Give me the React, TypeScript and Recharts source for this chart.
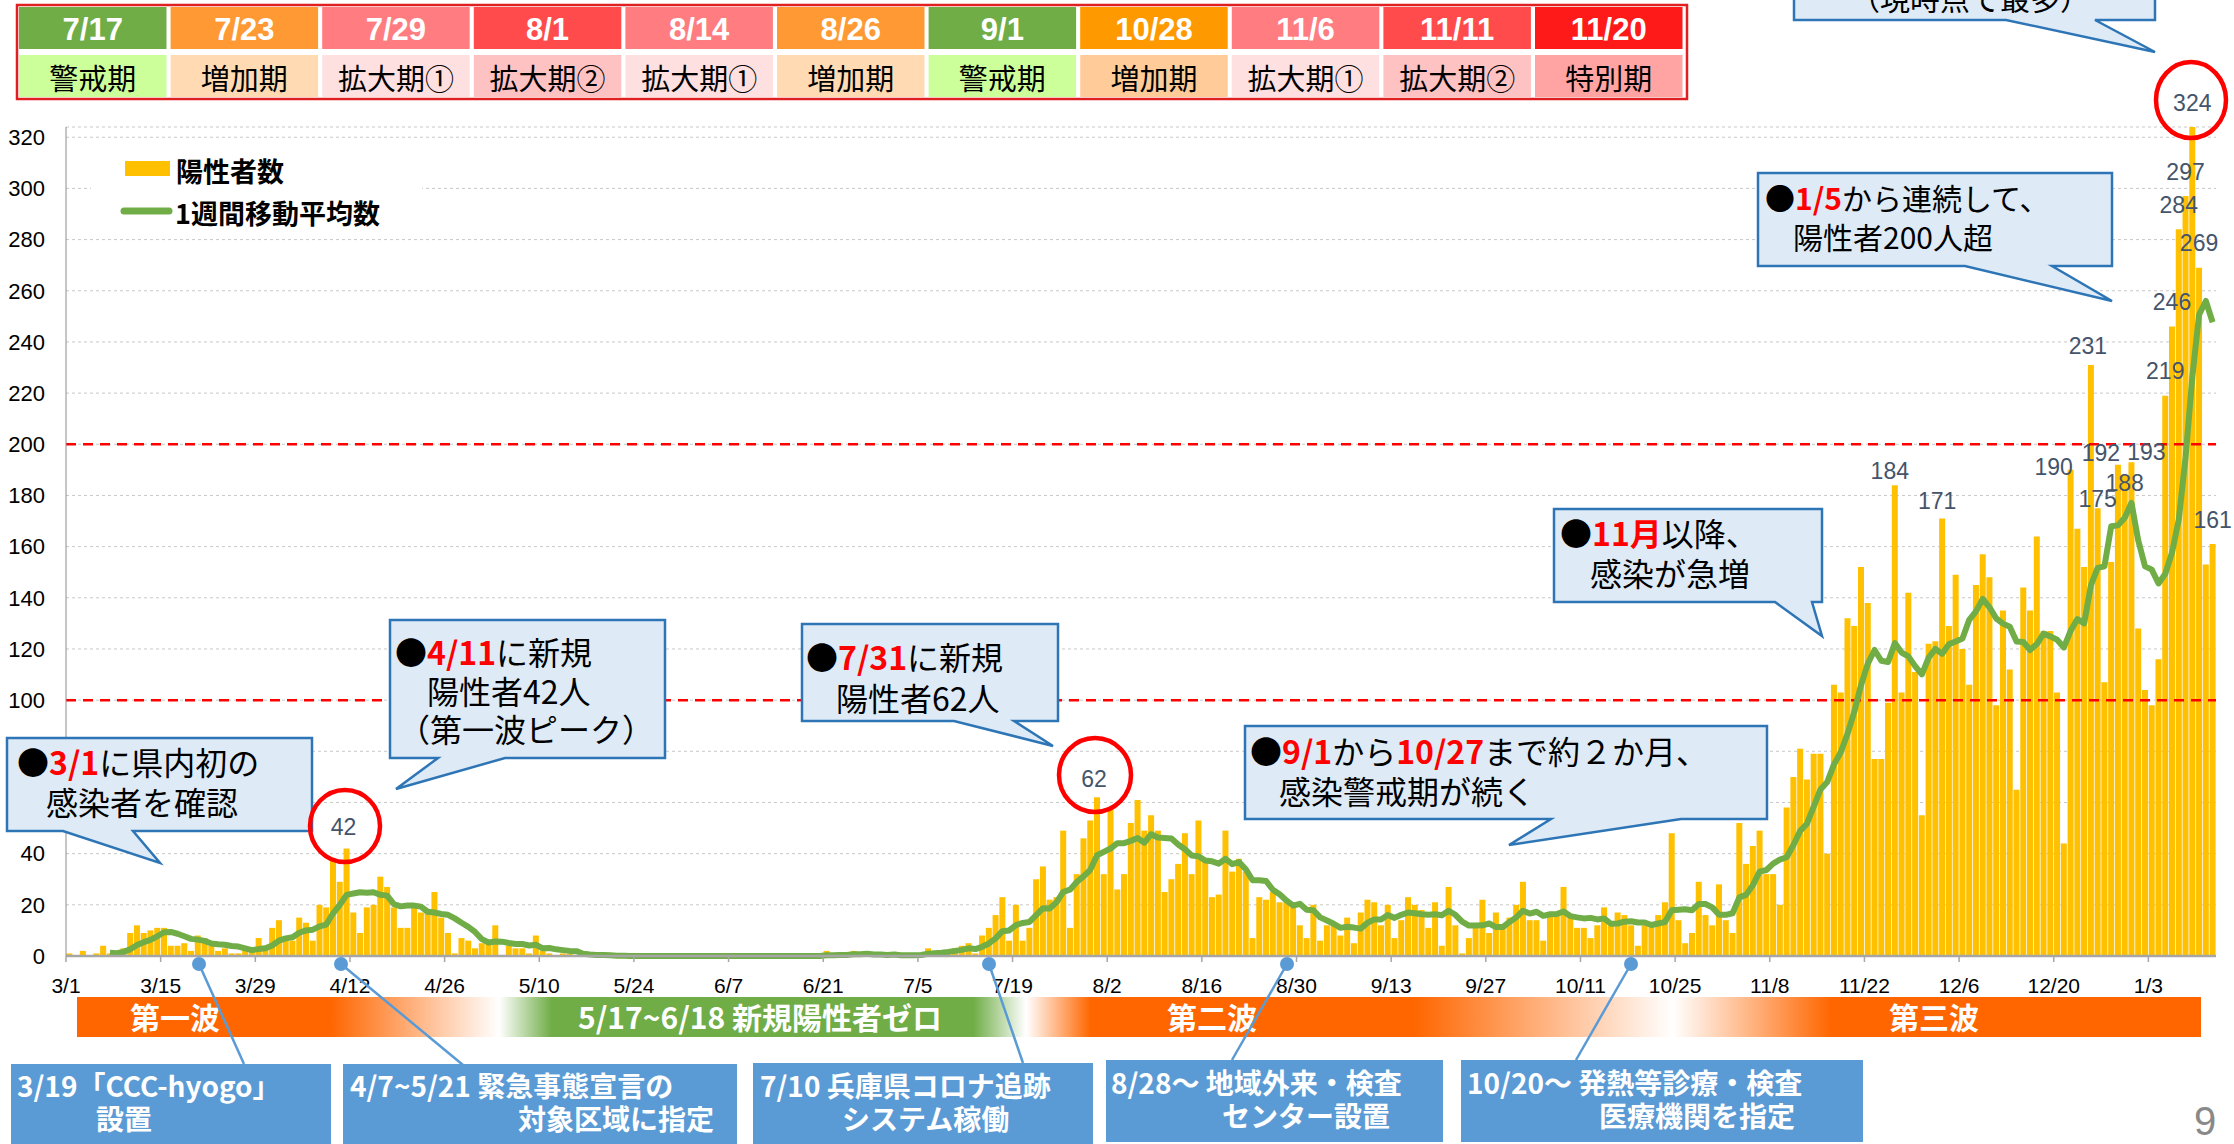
import React from "react";
import {
  ComposedChart,
  Bar,
  Line,
  XAxis,
  YAxis,
  CartesianGrid,
  ReferenceLine,
  LabelList,
} from "recharts";

// days per month, 2020/3/1 - 2021/1/12
const MONTHS: [number, number][] = [
  [3, 31], [4, 30], [5, 31], [6, 30], [7, 31], [8, 31],
  [9, 30], [10, 31], [11, 30], [12, 31], [1, 12],
];
const DATES: string[] = MONTHS.flatMap(([m, n]) =>
  Array.from({ length: n }, (_, i) => `${m}/${i + 1}`)
);

// daily positives
const POSITIVES = [
  1, 0, 2, 0, 1, 4, 1, 0, 3, 9,
  12, 9, 10, 11, 11, 4, 4, 5, 2, 8,
  7, 4, 2, 3, 1, 1, 3, 2, 7, 4,
  11, 14, 7, 6, 15, 13, 6, 20, 19, 38,
  29, 42, 17, 9, 19, 20, 31, 27, 19, 11,
  11, 19, 17, 17, 25, 15, 9, 1, 7, 6,
  3, 5, 6, 12, 0, 4, 3, 3, 1, 8,
  2, 1, 0, 1, 1, 0, 1, 0, 0, 0,
  0, 0, 0, 0, 0, 0, 0, 0, 0, 0,
  0, 0, 0, 0, 0, 0, 0, 0, 0, 0,
  0, 0, 0, 0, 0, 0, 0, 0, 0, 0,
  0, 0, 2, 0, 1, 0, 2, 0, 1, 0,
  0, 0, 1, 0, 0, 1, 1, 3, 2, 2,
  2, 3, 4, 5, 1, 8, 11, 16, 23, 6,
  20, 6, 11, 30, 35, 22, 23, 49, 11, 32,
  46, 53, 62, 32, 58, 26, 32, 52, 61, 49,
  55, 49, 25, 30, 36, 48, 32, 53, 37, 23,
  24, 49, 33, 38, 33, 7, 23, 22, 25, 21,
  21, 19, 12, 7, 20, 6, 12, 12, 8, 15,
  5, 17, 22, 21, 12, 20, 7, 14, 23, 20,
  18, 11, 21, 4, 27, 12, 1, 7, 11, 22,
  9, 17, 12, 15, 20, 29, 14, 14, 6, 16,
  16, 27, 16, 11, 11, 7, 12, 19, 12, 17,
  16, 12, 4, 12, 12, 16, 21, 48, 14, 5,
  9, 29, 16, 12, 28, 14, 9, 52, 36, 43,
  49, 32, 32, 20, 58, 70, 81, 69, 79, 79,
  40, 106, 103, 132, 129, 152, 138, 77, 77, 99,
  184, 103, 142, 111, 55, 122, 123, 171, 129, 149,
  120, 106, 145, 157, 148, 98, 135, 112, 65, 144,
  135, 164, 127, 127, 103, 44, 190, 167, 152, 231,
  175, 107, 154, 192, 188, 193, 128, 104, 98, 116,
  219, 246, 284, 297, 324, 269, 153, 161,
];

// 1-week moving average
const WEEKLY_AVG: (number | null)[] = [
  null, null, null, null, null, null, 1.3, 1.1, 1.6, 2.6,
  4.3, 5.4, 6.3, 7.7, 9.3, 9.4, 8.7, 7.7, 6.7, 6.4,
  5.9, 4.9, 4.6, 4.4, 3.9, 3.7, 3.0, 2.3, 2.7, 3.0,
  4.1, 6.0, 6.9, 7.3, 9.1, 10.0, 10.3, 11.6, 12.3, 16.7,
  20.0, 23.9, 24.4, 24.9, 24.7, 24.9, 23.9, 23.6, 20.3, 19.4,
  19.7, 19.7, 19.3, 17.3, 17.0, 16.4, 16.1, 14.7, 13.0, 11.4,
  9.4, 6.6, 5.3, 5.7, 5.6, 5.1, 4.7, 4.7, 4.1, 4.4,
  3.0, 3.1, 2.6, 2.3, 2.0, 1.9, 0.9, 0.6, 0.4, 0.4,
  0.3, 0.1, 0.1, 0, 0, 0, 0, 0, 0, 0,
  0, 0, 0, 0, 0, 0, 0, 0, 0, 0,
  0, 0, 0, 0, 0, 0, 0, 0, 0, 0,
  0, 0, 0.3, 0.3, 0.4, 0.4, 0.7, 0.7, 0.9, 0.6,
  0.6, 0.4, 0.6, 0.3, 0.3, 0.3, 0.4, 0.9, 1.1, 1.3,
  1.6, 2.0, 2.4, 3.0, 2.7, 3.6, 4.9, 6.9, 9.7, 10.0,
  12.1, 12.9, 13.3, 16.0, 18.7, 18.6, 21.0, 25.1, 25.9, 28.9,
  31.1, 33.7, 39.4, 40.7, 42.0, 44.1, 44.1, 45.0, 46.1, 44.3,
  47.6, 46.3, 46.1, 45.9, 43.6, 41.7, 39.3, 39.0, 37.3, 37.0,
  36.1, 38.0, 35.9, 36.7, 33.9, 29.6, 29.6, 29.3, 25.9, 24.1,
  21.7, 19.7, 20.4, 18.1, 17.9, 15.1, 13.9, 12.6, 11.0, 11.4,
  11.1, 10.7, 13.0, 14.3, 14.3, 16.0, 14.9, 16.1, 17.0, 16.7,
  16.3, 16.1, 16.3, 15.9, 17.7, 16.1, 13.4, 11.9, 11.9, 12.0,
  12.7, 11.3, 11.3, 13.3, 15.1, 17.7, 16.6, 17.3, 15.7, 16.3,
  16.4, 17.4, 15.6, 15.1, 14.7, 14.9, 14.3, 14.7, 12.6, 12.7,
  13.4, 13.6, 13.1, 13.1, 12.1, 12.7, 13.3, 17.9, 18.1, 18.3,
  17.9, 20.3, 20.3, 19.0, 16.1, 16.1, 16.7, 22.9, 23.9, 27.7,
  33.0, 33.6, 36.1, 37.7, 38.6, 43.4, 48.9, 51.7, 58.4, 65.1,
  68.0, 74.9, 79.6, 86.9, 95.4, 105.9, 114.3, 119.6, 115.4, 114.9,
  122.3, 118.6, 117.1, 113.3, 110.1, 116.6, 120.0, 118.1, 121.9, 122.9,
  124.1, 131.4, 134.7, 139.6, 136.3, 131.9, 129.9, 128.7, 122.9, 122.7,
  119.6, 121.9, 126.0, 124.9, 123.6, 120.6, 127.1, 131.7, 130.0, 144.9,
  151.7, 152.3, 168.0, 168.3, 171.3, 177.1, 162.4, 152.3, 151.0, 145.6,
  149.4, 157.7, 170.7, 194.9, 226.3, 250.7, 256.0, 247.7,
];

const Y_TICKS = [0, 20, 40, 60, 80, 100, 120, 140, 160, 180, 200, 220, 240, 260, 280, 300, 320];

const PHASE_DATES = ["7/17", "7/23", "7/29", "8/1", "8/14", "8/26", "9/1", "10/28", "11/6", "11/11", "11/20"];
const PHASE_NAMES = ["警戒期", "増加期", "拡大期①", "拡大期②", "拡大期①", "増加期", "警戒期", "増加期", "拡大期①", "拡大期②", "特別期"];

const chartData = DATES.map((date, i) => ({
  date,
  positives: POSITIVES[i],
  avg: WEEKLY_AVG[i],
}));

// styling
const W = 2234;
const H = 1144;
const PLOT_LEFT = 66;
const PLOT_RIGHT = 2216;
const BAND = (PLOT_RIGHT - PLOT_LEFT) / DATES.length;
const HALF_BAND = BAND / 2;
const JP = "'Noto Sans CJK JP', 'Noto Sans', sans-serif";
const LAT = "'Liberation Sans', Arial, sans-serif";

const HEAD_COLORS = ["#70AD47", "#FF9933", "#FF7C80", "#FF4B4B", "#FF7C80", "#FF9933", "#70AD47", "#FF9900", "#FF7C80", "#FF4B4B", "#FF1A1A"];
const NAME_COLORS = ["#CCFF99", "#FFDAB3", "#FFE0E0", "#FFC2C2", "#FFE0E0", "#FFDAB3", "#CCFF99", "#FFCC99", "#FFE0E0", "#FFC2C2", "#FFA3A3"];

// label offsets (dx from bar centre, dy from bar top), keyed by day index
const LABEL_OFFSETS: Record<number, [number, number]> = {
  41: [-3, -22],
  152: [-3, -18],
  270: [-5, -14],
  277: [-5, -17],
  296: [-17, -3],
  299: [-3, -19],
  300: [0, -9],
  303: [-17, -12],
  304: [0, 8],
  305: [15, -10],
  310: [0, -25],
  311: [0, -25],
  312: [0, -24],
  313: [0, -24],
  314: [0, -24],
  315: [0, -25],
  317: [0, -24],
};

const DateTick = (props: any) => {
  const { x, y, payload } = props;
  const px = x - HALF_BAND;
  return (
    <g>
      <line x1={px} x2={px} y1={y} y2={y + 6} stroke="#A6A6A6" strokeWidth={1.5} />
      <text x={px} y={y + 29} textAnchor="middle" dominantBaseline="central" fontSize={21} fontFamily={LAT} fill="#000">
        {payload.value}
      </text>
    </g>
  );
};

const PeakLabel = (props: any) => {
  const { x, y, width, value } = props;
  const cx = Number(x) + Number(width) / 2;
  const day = Math.floor((cx - PLOT_LEFT) / BAND);
  const off = LABEL_OFFSETS[day];
  if (!off) return null;
  return (
    <text
      x={cx + off[0]}
      y={Number(y) + off[1]}
      textAnchor="middle"
      dominantBaseline="central"
      fontSize={23}
      fontFamily={LAT}
      fill="#44546A"
    >
      {value}
    </text>
  );
};

const Red = ({ children }: { children: React.ReactNode }) => (
  <tspan fill="#FF0000" fontWeight="bold">{children}</tspan>
);

const Callout = ({ d }: { d: string }) => (
  <path d={d} fill="#DEEBF7" stroke="#2E75B6" strokeWidth={2.5} strokeLinejoin="miter" />
);

const calloutText = { fontSize: 32, fontFamily: JP, fill: "#000", dominantBaseline: "central" as const };

const BlueBox = ({ x, y, w, h }: { x: number; y: number; w: number; h: number }) => (
  <rect x={x} y={y} width={w} height={h} fill="#5B9BD5" />
);

const boxText = { fontSize: 28, fontFamily: JP, fill: "#fff", fontWeight: "bold" as const, dominantBaseline: "central" as const };

const Overlay = () => (
  <svg width={W} height={H} style={{ position: "absolute", left: 0, top: 0, pointerEvents: "none" }}>
    <defs>
      <linearGradient id="wave1" x1="0" x2="1" y1="0" y2="0">
        <stop offset="0" stopColor="#FF6600" />
        <stop offset="0.6" stopColor="#FF6600" />
        <stop offset="1" stopColor="#FFFFFF" />
      </linearGradient>
      <linearGradient id="zero" x1="0" x2="1" y1="0" y2="0">
        <stop offset="0" stopColor="#FFFFFF" />
        <stop offset="0.1" stopColor="#70AD47" />
        <stop offset="0.9" stopColor="#70AD47" />
        <stop offset="1" stopColor="#FFFFFF" />
      </linearGradient>
      <linearGradient id="wave2" x1="0" x2="1" y1="0" y2="0">
        <stop offset="0" stopColor="#FFFFFF" />
        <stop offset="0.1" stopColor="#FF6600" />
        <stop offset="0.6" stopColor="#FF6600" />
        <stop offset="1" stopColor="#FFFFFF" />
      </linearGradient>
      <linearGradient id="wave3" x1="0" x2="1" y1="0" y2="0">
        <stop offset="0" stopColor="#FFFFFF" />
        <stop offset="0.3" stopColor="#FF6600" />
        <stop offset="1" stopColor="#FF6600" />
      </linearGradient>
    </defs>

    {/* phase table */}
    <rect x={17} y={5} width={1670} height={94} fill="#fff" stroke="#E02020" strokeWidth={2.5} />
    {PHASE_DATES.map((d, j) => {
      const x = 19 + j * 151.6;
      return (
        <g key={j}>
          <rect x={x} y={7} width={147.5} height={42} fill={HEAD_COLORS[j]} />
          <rect x={x} y={55} width={147.5} height={42} fill={NAME_COLORS[j]} />
          <text x={x + 73.75} y={29} textAnchor="middle" dominantBaseline="central" fontSize={31} fontWeight="bold" fontFamily={LAT} fill="#fff">
            {d}
          </text>
          <text x={x + 73.75} y={77} textAnchor="middle" dominantBaseline="central" fontSize={29} fontFamily={JP} fill="#000">
            {PHASE_NAMES[j]}
          </text>
        </g>
      );
    })}

    {/* legend */}
    <rect x={91} y={148} width={331} height={82} fill="#fff" />
    <rect x={125} y={161} width={45} height={15} fill="#FFC000" />
    <text x={176} y={170} dominantBaseline="central" fontSize={27} fontWeight="bold" fontFamily={JP} fill="#000">陽性者数</text>
    <line x1={124} x2={169} y1={211} y2={211} stroke="#70AD47" strokeWidth={7} strokeLinecap="round" />
    <text x={175} y={212} dominantBaseline="central" fontSize={27} fontWeight="bold" fontFamily={JP} fill="#000">1週間移動平均数</text>

    {/* callouts */}
    <Callout d="M7,738 H312 V831 H133 L160,863 L63,831 H7 Z" />
    <text x={17} y={761} {...calloutText}>●<Red>3/1</Red>に県内初の</text>
    <text x={46} y={801} {...calloutText}>感染者を確認</text>

    <Callout d="M390,620 H665 V758 H505 L396,789 L438,758 H390 Z" />
    <text x={395} y={651} {...calloutText}>●<Red>4/11</Red>に新規</text>
    <text x={427} y={690} {...calloutText}>陽性者42人</text>
    <text x={398} y={728} {...calloutText}>（第一波ピーク）</text>

    <Callout d="M802,624 H1058 V721 H1014 L1053,746 L954,721 H802 Z" />
    <text x={806} y={656} {...calloutText}>●<Red>7/31</Red>に新規</text>
    <text x={836} y={697} {...calloutText}>陽性者62人</text>

    <Callout d="M1245,726 H1767 V819 H1681 L1509,845 L1551,819 H1245 Z" />
    <text x={1250} y={750} {...calloutText}>●<Red>9/1</Red>から<Red>10/27</Red>まで約２か月、</text>
    <text x={1279} y={790} {...calloutText}>感染警戒期が続く</text>

    <Callout d="M1554,509 H1822 V602 H1812 L1822,636 L1775,602 H1554 Z" />
    <text x={1560} y={532} {...calloutText}>●<Red>11月</Red>以降、</text>
    <text x={1590} y={572} {...calloutText}>感染が急増</text>

    <Callout d="M1758,173 H2112 V266 H2052 L2112,301 L1965,266 H1758 Z" />
    <text x={1765} y={197} {...calloutText} fontSize={30}>●<Red>1/5</Red>から連続して、</text>
    <text x={1793} y={236} {...calloutText} fontSize={30}>陽性者200人超</text>

    <Callout d="M1794,-10 H2155 V20 H2095 L2155,52 L2006,20 H1794 Z" />
    <text x={1850} y={-3} {...calloutText} fontSize={30}>（現時点で最多）</text>

    {/* peak circles */}
    <ellipse cx={345} cy={826} rx={35} ry={36} fill="none" stroke="#FF0000" strokeWidth={4.5} />
    <ellipse cx={1095} cy={775} rx={36} ry={37} fill="none" stroke="#FF0000" strokeWidth={4.5} />
    <ellipse cx={2191} cy={100} rx={35} ry={38} fill="none" stroke="#FF0000" strokeWidth={4.5} />

    {/* wave bands */}
    <rect x={77} y={997} width={422} height={40} fill="url(#wave1)" />
    <rect x={499} y={997} width={527} height={40} fill="url(#zero)" />
    <rect x={1026} y={997} width={647} height={40} fill="url(#wave2)" />
    <rect x={1673} y={997} width={528} height={40} fill="url(#wave3)" />
    <text x={175} y={1016} textAnchor="middle" dominantBaseline="central" fontSize={30} fontWeight="bold" fontFamily={JP} fill="#fff">第一波</text>
    <text x={760} y={1016} textAnchor="middle" dominantBaseline="central" fontSize={30} fontWeight="bold" fontFamily={JP} fill="#fff">5/17~6/18 新規陽性者ゼロ</text>
    <text x={1212} y={1016} textAnchor="middle" dominantBaseline="central" fontSize={30} fontWeight="bold" fontFamily={JP} fill="#fff">第二波</text>
    <text x={1934} y={1016} textAnchor="middle" dominantBaseline="central" fontSize={30} fontWeight="bold" fontFamily={JP} fill="#fff">第三波</text>

    {/* connectors */}
    {[
      [199, 244, 1064],
      [341, 463, 1065],
      [989, 1023, 1063],
      [1287, 1232, 1060],
      [1631, 1576, 1060],
    ].map(([x1, x2, y2], i) => (
      <g key={i}>
        <line x1={x1} y1={964} x2={x2} y2={y2} stroke="#5B9BD5" strokeWidth={2.5} />
        <circle cx={x1} cy={964} r={7} fill="#5B9BD5" />
      </g>
    ))}

    {/* event boxes */}
    <BlueBox x={11} y={1064} w={320} h={80} />
    <text x={17} y={1085} {...boxText}>3/19「CCC-hyogo」</text>
    <text x={96} y={1118} {...boxText}>設置</text>

    <BlueBox x={343} y={1064} w={394} h={80} />
    <text x={350} y={1085} {...boxText}>4/7~5/21 緊急事態宣言の</text>
    <text x={714} y={1118} textAnchor="end" {...boxText}>対象区域に指定</text>

    <BlueBox x={753} y={1063} w={340} h={81} />
    <text x={760} y={1085} {...boxText}>7/10 兵庫県コロナ追跡</text>
    <text x={842} y={1118} {...boxText}>システム稼働</text>

    <BlueBox x={1106} y={1060} w={337} h={82} />
    <text x={1111} y={1082} {...boxText}>8/28～ 地域外来・検査</text>
    <text x={1222} y={1115} {...boxText}>センター設置</text>

    <BlueBox x={1461} y={1060} w={402} h={82} />
    <text x={1467} y={1082} {...boxText}>10/20～ 発熱等診療・検査</text>
    <text x={1599} y={1115} {...boxText}>医療機関を指定</text>

    <text x={2205} y={1135} textAnchor="middle" fontSize={40} fontFamily={LAT} fill="#898989">9</text>
  </svg>
);

export default function App() {
  return (
    <div style={{ position: "relative", width: W, height: H, background: "#fff", overflow: "hidden" }}>
      <style>{"body{margin:0}"}</style>
      <ComposedChart
        width={W}
        height={H}
        data={chartData}
        margin={{ top: 127, right: W - PLOT_RIGHT, bottom: 148, left: 6 }}
        barCategoryGap="5%"
      >
        <CartesianGrid vertical={false} strokeDasharray="3 3" stroke="#C8C8C8" />
        <XAxis
          dataKey="date"
          interval={13}
          height={40}
          tickLine={false}
          tickSize={0}
          tickMargin={0}
          axisLine={{ stroke: "#A6A6A6", strokeWidth: 2.5 }}
          tick={<DateTick />}
        />
        <YAxis
          domain={[0, 324]}
          ticks={Y_TICKS}
          interval={0}
          width={60}
          tickLine={false}
          tickMargin={15}
          axisLine={{ stroke: "#8C8C8C" }}
          tick={{ fontSize: 22, fill: "#000", fontFamily: LAT }}
        />
        <Bar dataKey="positives" fill="#FFC000" isAnimationActive={false}>
          <LabelList dataKey="positives" content={<PeakLabel />} />
        </Bar>
        <ReferenceLine y={100} stroke="#FF0000" strokeDasharray="10 7" strokeWidth={2.5} />
        <ReferenceLine y={200} stroke="#FF0000" strokeDasharray="10 7" strokeWidth={2.5} />
        <Line
          dataKey="avg"
          type="linear"
          stroke="#70AD47"
          strokeWidth={6}
          strokeLinejoin="round"
          dot={false}
          activeDot={false}
          isAnimationActive={false}
        />
      </ComposedChart>
      <Overlay />
    </div>
  );
}
